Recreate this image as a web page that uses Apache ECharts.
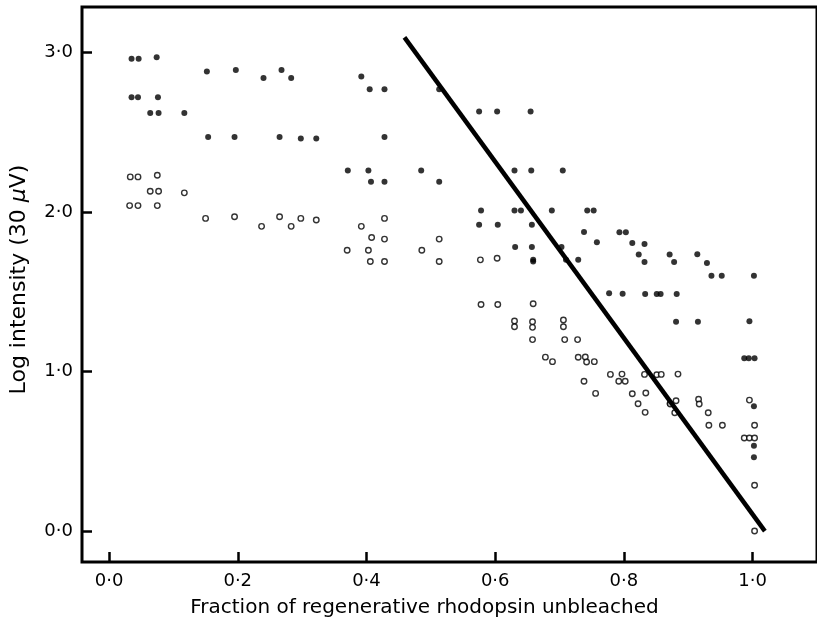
<!DOCTYPE html>
<html>
<head>
<meta charset="utf-8">
<title>Log intensity vs fraction of rhodopsin unbleached</title>
<script src="https://cdn.jsdelivr.net/npm/echarts@6/dist/echarts.min.js"></script>
<style>
  html, body { margin: 0; padding: 0; background: #fff; }
  #chart { width: 817px; height: 627px; }
</style>
</head>
<body>
<div id="chart"></div>
<script>
// tick values
var xTicks = [0, 0.2, 0.4, 0.6, 0.8, 1.0];
var yTicks = [0, 1, 2, 3];

// filled circles
var filledX = [0.035, 0.046, 0.074, 0.152, 0.197, 0.240, 0.268, 0.283, 0.392,
  0.035, 0.045, 0.076, 0.064, 0.077, 0.117,
  0.154, 0.195, 0.265, 0.298, 0.322,
  0.371, 0.403, 0.485, 0.407, 0.428, 0.513,
  0.405, 0.428, 0.513, 0.428,
  0.575, 0.603, 0.655, 0.630, 0.656, 0.705,
  0.578, 0.630, 0.640, 0.688, 0.743, 0.753,
  0.575, 0.604, 0.657, 0.631, 0.657, 0.703,
  0.659, 0.659, 0.710, 0.729,
  0.738, 0.793, 0.803, 0.758, 0.813, 0.832,
  0.823, 0.871, 0.914, 0.832, 0.878, 0.929,
  0.936, 0.952, 1.002,
  0.777, 0.798, 0.833, 0.851, 0.857, 0.882,
  0.881, 0.915, 0.995,
  0.987, 0.994, 1.003,
  0.871, 1.002, 1.002, 1.002];
var filledY = [2.96, 2.96, 2.97, 2.88, 2.89, 2.84, 2.89, 2.84, 2.85,
  2.72, 2.72, 2.72, 2.62, 2.62, 2.62,
  2.47, 2.47, 2.47, 2.46, 2.46,
  2.26, 2.26, 2.26, 2.19, 2.19, 2.19,
  2.77, 2.77, 2.77, 2.47,
  2.63, 2.63, 2.63, 2.26, 2.26, 2.26,
  2.01, 2.01, 2.01, 2.01, 2.01, 2.01,
  1.92, 1.92, 1.92, 1.78, 1.78, 1.78,
  1.70, 1.69, 1.70, 1.70,
  1.875, 1.873, 1.873, 1.81, 1.806, 1.80,
  1.733, 1.733, 1.735, 1.687, 1.687, 1.68,
  1.60, 1.60, 1.60,
  1.49, 1.488, 1.486, 1.486, 1.486, 1.486,
  1.312, 1.312, 1.315,
  1.083, 1.083, 1.083,
  0.80, 0.782, 0.535, 0.462];

// open circles
var openX = [0.033, 0.045, 0.075, 0.064, 0.077, 0.117, 0.032, 0.045, 0.075,
  0.150, 0.195, 0.237, 0.265, 0.283, 0.298, 0.322, 0.392,
  0.428, 0.408, 0.428, 0.513,
  0.370, 0.403, 0.486, 0.406, 0.428, 0.513,
  0.577, 0.603,
  0.578, 0.604, 0.659,
  0.630, 0.630, 0.658, 0.658, 0.706, 0.706,
  0.658, 0.708, 0.728,
  0.678, 0.689, 0.729, 0.740, 0.742, 0.754,
  0.738, 0.756,
  0.779, 0.797, 0.792, 0.802,
  0.813, 0.834, 0.822, 0.833,
  0.832, 0.851, 0.858, 0.884,
  0.872, 0.881, 0.879,
  0.916, 0.917, 0.931, 0.932, 0.953,
  0.995, 1.003,
  0.987, 0.995, 1.003,
  1.003, 1.003];
var openY = [2.22, 2.22, 2.23, 2.13, 2.13, 2.12, 2.04, 2.04, 2.04,
  1.96, 1.97, 1.91, 1.97, 1.91, 1.96, 1.95, 1.91,
  1.96, 1.84, 1.83, 1.83,
  1.76, 1.76, 1.76, 1.69, 1.69, 1.69,
  1.70, 1.71,
  1.42, 1.42, 1.425,
  1.317, 1.281, 1.312, 1.277, 1.323, 1.281,
  1.20, 1.20, 1.20,
  1.09, 1.062, 1.089, 1.091, 1.06, 1.062,
  0.939, 0.863,
  0.982, 0.984, 0.939, 0.939,
  0.861, 0.865, 0.798, 0.744,
  0.982, 0.980, 0.982, 0.984,
  0.796, 0.817, 0.742,
  0.826, 0.796, 0.742, 0.663, 0.663,
  0.821, 0.663,
  0.583, 0.583, 0.583,
  0.287, 0.0];

// fitted straight line
var fitX = [0.459, 1.019];
var fitY = [3.095, 0.0];

function pairs(xs, ys) {
  return xs.map(function (x, i) { return [x, ys[i]]; });
}
function fmt(v) {
  return v.toFixed(1).replace('.', '\u00b7');
}

var font = 'DejaVu Sans';
var ink = '#000';

var myChart = echarts.init(document.getElementById('chart'));
var option = {
  backgroundColor: '#fff',
  animation: false,
  grid: {
    left: 82, right: -9, top: 7, bottom: 65,
    show: true,
    borderColor: ink,
    borderWidth: 3
  },
  xAxis: {
    type: 'value',
    min: -0.042,
    max: 1.1,
    axisLine: { show: false, onZero: false },
    splitLine: { show: false },
    axisTick: {
      show: true, inside: true, length: 10,
      customValues: xTicks,
      lineStyle: { color: ink, width: 2.5 }
    },
    axisLabel: {
      customValues: xTicks,
      formatter: fmt,
      margin: 10,
      color: ink, fontFamily: font, fontSize: 18
    },
    name: 'Fraction of regenerative rhodopsin unbleached',
    nameLocation: 'middle',
    nameGap: 36,
    nameTextStyle: {
      color: ink, fontFamily: font, fontSize: 20,
      padding: [0, 50, 0, 0]
    }
  },
  yAxis: {
    type: 'value',
    min: -0.194,
    max: 3.285,
    axisLine: { show: false, onZero: false },
    splitLine: { show: false },
    axisTick: {
      show: true, inside: true, length: 10,
      customValues: yTicks,
      lineStyle: { color: ink, width: 2.5 }
    },
    axisLabel: {
      customValues: yTicks,
      formatter: fmt,
      margin: 9,
      color: ink, fontFamily: font, fontSize: 18
    },
    name: 'Log intensity (30 {it|\u03bc}V)',
    nameLocation: 'middle',
    nameGap: 52,
    nameTextStyle: {
      color: ink, fontFamily: font, fontSize: 22,
      padding: [0, 0, 0, 10],
      rich: { it: { fontStyle: 'italic', fontFamily: font, fontSize: 22, color: ink } }
    }
  },
  series: [
    {
      type: 'scatter',
      data: pairs(filledX, filledY),
      symbol: 'circle',
      symbolSize: 6,
      itemStyle: { color: ink }
    },
    {
      type: 'scatter',
      data: pairs(openX, openY),
      symbol: 'circle',
      symbolSize: 5.5,
      itemStyle: { color: '#fff', borderColor: ink, borderWidth: 1.4 }
    },
    {
      type: 'line',
      data: pairs(fitX, fitY),
      symbol: 'none',
      z: 5,
      lineStyle: { color: ink, width: 4.5 }
    }
  ]
};

myChart.setOption(option);
</script>
</body>
</html>
